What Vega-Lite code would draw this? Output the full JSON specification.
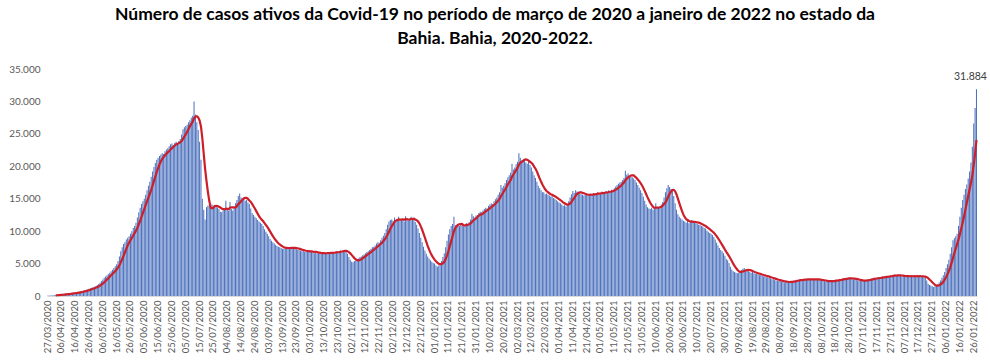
{
"$schema": "https://vega.github.io/schema/vega-lite/v6.json",
"width": 930, "height": 227,
"autosize": "none",
"padding": {"left": 47, "top": 69, "right": 13, "bottom": 66},
"background": "white",
"config": {"locale": {"number": {"decimal": ",", "thousands": ".", "grouping": [3], "currency": ["", ""]}}, "view": {"stroke": null}, "font": "Lato"},
"title": {"text": ["Número de casos ativos da Covid-19 no período de março de 2020 a janeiro de 2022 no estado da", "Bahia. Bahia, 2020-2022."], "font": "Lato", "fontSize": 17.5, "fontWeight": "bold", "color": "#000000", "lineHeight": 24, "dx": -17, "offset": 17, "anchor": "middle"},
"data": {"values": [
{"d":"27/03/2020","v":50},{"d":"28/03/2020","v":60},{"d":"29/03/2020","v":80},{"d":"30/03/2020","v":95},{"d":"31/03/2020","v":110},
{"d":"01/04/2020","v":130},{"d":"02/04/2020","v":150},{"d":"03/04/2020","v":170},{"d":"04/04/2020","v":190},{"d":"05/04/2020","v":215},{"d":"06/04/2020","v":240},{"d":"07/04/2020","v":260},{"d":"08/04/2020","v":285},{"d":"09/04/2020","v":310},{"d":"10/04/2020","v":330},{"d":"11/04/2020","v":360},{"d":"12/04/2020","v":390},{"d":"13/04/2020","v":420},{"d":"14/04/2020","v":450},{"d":"15/04/2020","v":490},{"d":"16/04/2020","v":530},{"d":"17/04/2020","v":570},{"d":"18/04/2020","v":610},{"d":"19/04/2020","v":650},{"d":"20/04/2020","v":700},{"d":"21/04/2020","v":760},{"d":"22/04/2020","v":820},{"d":"23/04/2020","v":880},{"d":"24/04/2020","v":950},{"d":"25/04/2020","v":1020},{"d":"26/04/2020","v":1100},{"d":"27/04/2020","v":1180},{"d":"28/04/2020","v":1260},{"d":"29/04/2020","v":1350},{"d":"30/04/2020","v":1440},
{"d":"01/05/2020","v":1550},{"d":"02/05/2020","v":1700},{"d":"03/05/2020","v":1850},{"d":"04/05/2020","v":2050},{"d":"05/05/2020","v":2300},{"d":"06/05/2020","v":2550},{"d":"07/05/2020","v":2800},{"d":"08/05/2020","v":3000},{"d":"09/05/2020","v":3200},{"d":"10/05/2020","v":3400},{"d":"11/05/2020","v":3600},{"d":"12/05/2020","v":3800},{"d":"13/05/2020","v":4050},{"d":"14/05/2020","v":4300},{"d":"15/05/2020","v":4600},{"d":"16/05/2020","v":4900},{"d":"17/05/2020","v":5400},{"d":"18/05/2020","v":6100},{"d":"19/05/2020","v":6900},{"d":"20/05/2020","v":7500},{"d":"21/05/2020","v":8000},{"d":"22/05/2020","v":8300},{"d":"23/05/2020","v":8700},{"d":"24/05/2020","v":9000},{"d":"25/05/2020","v":9200},{"d":"26/05/2020","v":9600},{"d":"27/05/2020","v":10000},{"d":"28/05/2020","v":10500},{"d":"29/05/2020","v":10800},{"d":"30/05/2020","v":11300},{"d":"31/05/2020","v":12100},
{"d":"01/06/2020","v":12900},{"d":"02/06/2020","v":13600},{"d":"03/06/2020","v":14200},{"d":"04/06/2020","v":14600},{"d":"05/06/2020","v":15000},{"d":"06/06/2020","v":15600},{"d":"07/06/2020","v":16300},{"d":"08/06/2020","v":17000},{"d":"09/06/2020","v":17600},{"d":"10/06/2020","v":18400},{"d":"11/06/2020","v":19200},{"d":"12/06/2020","v":19900},{"d":"13/06/2020","v":20500},{"d":"14/06/2020","v":21000},{"d":"15/06/2020","v":21300},{"d":"16/06/2020","v":21600},{"d":"17/06/2020","v":21800},{"d":"18/06/2020","v":22000},{"d":"19/06/2020","v":21900},{"d":"20/06/2020","v":22300},{"d":"21/06/2020","v":22600},{"d":"22/06/2020","v":22800},{"d":"23/06/2020","v":23100},{"d":"24/06/2020","v":23400},{"d":"25/06/2020","v":23500},{"d":"26/06/2020","v":23300},{"d":"27/06/2020","v":23600},{"d":"28/06/2020","v":23800},{"d":"29/06/2020","v":23500},{"d":"30/06/2020","v":23900},
{"d":"01/07/2020","v":24200},{"d":"02/07/2020","v":24900},{"d":"03/07/2020","v":25700},{"d":"04/07/2020","v":26000},{"d":"05/07/2020","v":26200},{"d":"06/07/2020","v":26400},{"d":"07/07/2020","v":26800},{"d":"08/07/2020","v":27100},{"d":"09/07/2020","v":27500},{"d":"10/07/2020","v":27800},{"d":"11/07/2020","v":30000},{"d":"12/07/2020","v":28000},{"d":"13/07/2020","v":26800},{"d":"14/07/2020","v":25600},{"d":"15/07/2020","v":23800},{"d":"16/07/2020","v":21000},{"d":"17/07/2020","v":15000},{"d":"18/07/2020","v":13300},{"d":"19/07/2020","v":11800},{"d":"20/07/2020","v":13700},{"d":"21/07/2020","v":13900},{"d":"22/07/2020","v":14000},{"d":"23/07/2020","v":13800},{"d":"24/07/2020","v":14100},{"d":"25/07/2020","v":13900},{"d":"26/07/2020","v":13700},{"d":"27/07/2020","v":13900},{"d":"28/07/2020","v":13600},{"d":"29/07/2020","v":13400},{"d":"30/07/2020","v":13000},{"d":"31/07/2020","v":12900},
{"d":"01/08/2020","v":13200},{"d":"02/08/2020","v":13500},{"d":"03/08/2020","v":14700},{"d":"04/08/2020","v":13300},{"d":"05/08/2020","v":13100},{"d":"06/08/2020","v":14500},{"d":"07/08/2020","v":13400},{"d":"08/08/2020","v":13200},{"d":"09/08/2020","v":13600},{"d":"10/08/2020","v":14300},{"d":"11/08/2020","v":14800},{"d":"12/08/2020","v":15400},{"d":"13/08/2020","v":15800},{"d":"14/08/2020","v":15200},{"d":"15/08/2020","v":14900},{"d":"16/08/2020","v":15000},{"d":"17/08/2020","v":14700},{"d":"18/08/2020","v":14800},{"d":"19/08/2020","v":14400},{"d":"20/08/2020","v":14200},{"d":"21/08/2020","v":13500},{"d":"22/08/2020","v":12800},{"d":"23/08/2020","v":12500},{"d":"24/08/2020","v":12200},{"d":"25/08/2020","v":12000},{"d":"26/08/2020","v":11700},{"d":"27/08/2020","v":11500},{"d":"28/08/2020","v":11300},{"d":"29/08/2020","v":11100},{"d":"30/08/2020","v":10800},{"d":"31/08/2020","v":10300},
{"d":"01/09/2020","v":9900},{"d":"02/09/2020","v":9600},{"d":"03/09/2020","v":9200},{"d":"04/09/2020","v":8800},{"d":"05/09/2020","v":8500},{"d":"06/09/2020","v":8300},{"d":"07/09/2020","v":8100},{"d":"08/09/2020","v":7900},{"d":"09/09/2020","v":7700},{"d":"10/09/2020","v":7600},{"d":"11/09/2020","v":7500},{"d":"12/09/2020","v":7400},{"d":"13/09/2020","v":7300},{"d":"14/09/2020","v":7300},{"d":"15/09/2020","v":7400},{"d":"16/09/2020","v":7500},{"d":"17/09/2020","v":7400},{"d":"18/09/2020","v":7300},{"d":"19/09/2020","v":7600},{"d":"20/09/2020","v":7500},{"d":"21/09/2020","v":7400},{"d":"22/09/2020","v":7300},{"d":"23/09/2020","v":7200},{"d":"24/09/2020","v":7100},{"d":"25/09/2020","v":7200},{"d":"26/09/2020","v":7000},{"d":"27/09/2020","v":6900},{"d":"28/09/2020","v":7000},{"d":"29/09/2020","v":6800},{"d":"30/09/2020","v":6800},
{"d":"01/10/2020","v":6900},{"d":"02/10/2020","v":7000},{"d":"03/10/2020","v":6800},{"d":"04/10/2020","v":6900},{"d":"05/10/2020","v":6700},{"d":"06/10/2020","v":6600},{"d":"07/10/2020","v":6800},{"d":"08/10/2020","v":6500},{"d":"09/10/2020","v":6600},{"d":"10/10/2020","v":6700},{"d":"11/10/2020","v":6500},{"d":"12/10/2020","v":6600},{"d":"13/10/2020","v":6700},{"d":"14/10/2020","v":6500},{"d":"15/10/2020","v":6600},{"d":"16/10/2020","v":6800},{"d":"17/10/2020","v":6700},{"d":"18/10/2020","v":6600},{"d":"19/10/2020","v":6700},{"d":"20/10/2020","v":6800},{"d":"21/10/2020","v":6700},{"d":"22/10/2020","v":6900},{"d":"23/10/2020","v":6800},{"d":"24/10/2020","v":6900},{"d":"25/10/2020","v":7000},{"d":"26/10/2020","v":6900},{"d":"27/10/2020","v":7100},{"d":"28/10/2020","v":7000},{"d":"29/10/2020","v":6900},{"d":"30/10/2020","v":6500},{"d":"31/10/2020","v":6000},
{"d":"01/11/2020","v":5600},{"d":"02/11/2020","v":5300},{"d":"03/11/2020","v":5200},{"d":"04/11/2020","v":5400},{"d":"05/11/2020","v":5500},{"d":"06/11/2020","v":5700},{"d":"07/11/2020","v":5800},{"d":"08/11/2020","v":6000},{"d":"09/11/2020","v":6100},{"d":"10/11/2020","v":6300},{"d":"11/11/2020","v":6400},{"d":"12/11/2020","v":6600},{"d":"13/11/2020","v":6800},{"d":"14/11/2020","v":6900},{"d":"15/11/2020","v":7100},{"d":"16/11/2020","v":7300},{"d":"17/11/2020","v":7500},{"d":"18/11/2020","v":7600},{"d":"19/11/2020","v":7800},{"d":"20/11/2020","v":8100},{"d":"21/11/2020","v":8300},{"d":"22/11/2020","v":8200},{"d":"23/11/2020","v":8600},{"d":"24/11/2020","v":9000},{"d":"25/11/2020","v":9300},{"d":"26/11/2020","v":9700},{"d":"27/11/2020","v":10300},{"d":"28/11/2020","v":11000},{"d":"29/11/2020","v":11500},{"d":"30/11/2020","v":11700},
{"d":"01/12/2020","v":11800},{"d":"02/12/2020","v":11600},{"d":"03/12/2020","v":12100},{"d":"04/12/2020","v":11500},{"d":"05/12/2020","v":11700},{"d":"06/12/2020","v":12200},{"d":"07/12/2020","v":11600},{"d":"08/12/2020","v":11800},{"d":"09/12/2020","v":11900},{"d":"10/12/2020","v":11500},{"d":"11/12/2020","v":12300},{"d":"12/12/2020","v":11700},{"d":"13/12/2020","v":11600},{"d":"14/12/2020","v":11900},{"d":"15/12/2020","v":12200},{"d":"16/12/2020","v":12000},{"d":"17/12/2020","v":11700},{"d":"18/12/2020","v":11400},{"d":"19/12/2020","v":11000},{"d":"20/12/2020","v":10400},{"d":"21/12/2020","v":9700},{"d":"22/12/2020","v":9000},{"d":"23/12/2020","v":8300},{"d":"24/12/2020","v":7600},{"d":"25/12/2020","v":7000},{"d":"26/12/2020","v":6500},{"d":"27/12/2020","v":6100},{"d":"28/12/2020","v":5800},{"d":"29/12/2020","v":5500},{"d":"30/12/2020","v":5300},{"d":"31/12/2020","v":5100},
{"d":"01/01/2021","v":5000},{"d":"02/01/2021","v":4700},{"d":"03/01/2021","v":4500},{"d":"04/01/2021","v":4700},{"d":"05/01/2021","v":5000},{"d":"06/01/2021","v":5400},{"d":"07/01/2021","v":6000},{"d":"08/01/2021","v":6600},{"d":"09/01/2021","v":7500},{"d":"10/01/2021","v":8500},{"d":"11/01/2021","v":9500},{"d":"12/01/2021","v":10300},{"d":"13/01/2021","v":10800},{"d":"14/01/2021","v":11100},{"d":"15/01/2021","v":12200},{"d":"16/01/2021","v":10900},{"d":"17/01/2021","v":10700},{"d":"18/01/2021","v":11000},{"d":"19/01/2021","v":10800},{"d":"20/01/2021","v":11100},{"d":"21/01/2021","v":10900},{"d":"22/01/2021","v":10700},{"d":"23/01/2021","v":11000},{"d":"24/01/2021","v":11200},{"d":"25/01/2021","v":11100},{"d":"26/01/2021","v":11400},{"d":"27/01/2021","v":11800},{"d":"28/01/2021","v":12700},{"d":"29/01/2021","v":12300},{"d":"30/01/2021","v":12100},{"d":"31/01/2021","v":12400},
{"d":"01/02/2021","v":12500},{"d":"02/02/2021","v":12800},{"d":"03/02/2021","v":13000},{"d":"04/02/2021","v":12900},{"d":"05/02/2021","v":13200},{"d":"06/02/2021","v":13400},{"d":"07/02/2021","v":13600},{"d":"08/02/2021","v":13500},{"d":"09/02/2021","v":13900},{"d":"10/02/2021","v":14100},{"d":"11/02/2021","v":14300},{"d":"12/02/2021","v":14200},{"d":"13/02/2021","v":14600},{"d":"14/02/2021","v":14900},{"d":"15/02/2021","v":15200},{"d":"16/02/2021","v":15600},{"d":"17/02/2021","v":16000},{"d":"18/02/2021","v":17100},{"d":"19/02/2021","v":16700},{"d":"20/02/2021","v":17000},{"d":"21/02/2021","v":17400},{"d":"22/02/2021","v":17900},{"d":"23/02/2021","v":18300},{"d":"24/02/2021","v":18600},{"d":"25/02/2021","v":19000},{"d":"26/02/2021","v":20400},{"d":"27/02/2021","v":19500},{"d":"28/02/2021","v":19800},
{"d":"01/03/2021","v":20300},{"d":"02/03/2021","v":20700},{"d":"03/03/2021","v":22000},{"d":"04/03/2021","v":21300},{"d":"05/03/2021","v":20900},{"d":"06/03/2021","v":20800},{"d":"07/03/2021","v":21100},{"d":"08/03/2021","v":20600},{"d":"09/03/2021","v":20400},{"d":"10/03/2021","v":20900},{"d":"11/03/2021","v":20200},{"d":"12/03/2021","v":19800},{"d":"13/03/2021","v":19200},{"d":"14/03/2021","v":18600},{"d":"15/03/2021","v":18200},{"d":"16/03/2021","v":17600},{"d":"17/03/2021","v":17000},{"d":"18/03/2021","v":16600},{"d":"19/03/2021","v":16300},{"d":"20/03/2021","v":16000},{"d":"21/03/2021","v":16000},{"d":"22/03/2021","v":15700},{"d":"23/03/2021","v":15800},{"d":"24/03/2021","v":15600},{"d":"25/03/2021","v":15500},{"d":"26/03/2021","v":15300},{"d":"27/03/2021","v":15400},{"d":"28/03/2021","v":15100},{"d":"29/03/2021","v":15000},{"d":"30/03/2021","v":14800},{"d":"31/03/2021","v":14600},
{"d":"01/04/2021","v":14400},{"d":"02/04/2021","v":14300},{"d":"03/04/2021","v":14100},{"d":"04/04/2021","v":13900},{"d":"05/04/2021","v":14000},{"d":"06/04/2021","v":13800},{"d":"07/04/2021","v":14200},{"d":"08/04/2021","v":14600},{"d":"09/04/2021","v":15200},{"d":"10/04/2021","v":15700},{"d":"11/04/2021","v":16200},{"d":"12/04/2021","v":15900},{"d":"13/04/2021","v":16300},{"d":"14/04/2021","v":16100},{"d":"15/04/2021","v":15800},{"d":"16/04/2021","v":15900},{"d":"17/04/2021","v":15700},{"d":"18/04/2021","v":15600},{"d":"19/04/2021","v":15500},{"d":"20/04/2021","v":15700},{"d":"21/04/2021","v":15600},{"d":"22/04/2021","v":15400},{"d":"23/04/2021","v":15700},{"d":"24/04/2021","v":15800},{"d":"25/04/2021","v":15600},{"d":"26/04/2021","v":15900},{"d":"27/04/2021","v":15700},{"d":"28/04/2021","v":15800},{"d":"29/04/2021","v":16000},{"d":"30/04/2021","v":15700},
{"d":"01/05/2021","v":15900},{"d":"02/05/2021","v":16100},{"d":"03/05/2021","v":15800},{"d":"04/05/2021","v":16000},{"d":"05/05/2021","v":16200},{"d":"06/05/2021","v":16000},{"d":"07/05/2021","v":16300},{"d":"08/05/2021","v":16100},{"d":"09/05/2021","v":16400},{"d":"10/05/2021","v":16200},{"d":"11/05/2021","v":16600},{"d":"12/05/2021","v":16900},{"d":"13/05/2021","v":17100},{"d":"14/05/2021","v":17300},{"d":"15/05/2021","v":17500},{"d":"16/05/2021","v":17600},{"d":"17/05/2021","v":17900},{"d":"18/05/2021","v":18200},{"d":"19/05/2021","v":19300},{"d":"20/05/2021","v":18700},{"d":"21/05/2021","v":18900},{"d":"22/05/2021","v":18500},{"d":"23/05/2021","v":18400},{"d":"24/05/2021","v":18300},{"d":"25/05/2021","v":18100},{"d":"26/05/2021","v":17900},{"d":"27/05/2021","v":17500},{"d":"28/05/2021","v":17100},{"d":"29/05/2021","v":16700},{"d":"30/05/2021","v":16300},{"d":"31/05/2021","v":15900},
{"d":"01/06/2021","v":15300},{"d":"02/06/2021","v":14700},{"d":"03/06/2021","v":14100},{"d":"04/06/2021","v":13700},{"d":"05/06/2021","v":13500},{"d":"06/06/2021","v":13400},{"d":"07/06/2021","v":13600},{"d":"08/06/2021","v":13300},{"d":"09/06/2021","v":13500},{"d":"10/06/2021","v":14300},{"d":"11/06/2021","v":13700},{"d":"12/06/2021","v":13600},{"d":"13/06/2021","v":13800},{"d":"14/06/2021","v":14100},{"d":"15/06/2021","v":14500},{"d":"16/06/2021","v":15200},{"d":"17/06/2021","v":16000},{"d":"18/06/2021","v":16600},{"d":"19/06/2021","v":17100},{"d":"20/06/2021","v":16800},{"d":"21/06/2021","v":16500},{"d":"22/06/2021","v":16200},{"d":"23/06/2021","v":15400},{"d":"24/06/2021","v":14300},{"d":"25/06/2021","v":13300},{"d":"26/06/2021","v":12600},{"d":"27/06/2021","v":12200},{"d":"28/06/2021","v":12000},{"d":"29/06/2021","v":11800},{"d":"30/06/2021","v":11600},
{"d":"01/07/2021","v":11500},{"d":"02/07/2021","v":11300},{"d":"03/07/2021","v":11600},{"d":"04/07/2021","v":11200},{"d":"05/07/2021","v":11400},{"d":"06/07/2021","v":11700},{"d":"07/07/2021","v":11300},{"d":"08/07/2021","v":11500},{"d":"09/07/2021","v":11200},{"d":"10/07/2021","v":11100},{"d":"11/07/2021","v":11000},{"d":"12/07/2021","v":11000},{"d":"13/07/2021","v":10800},{"d":"14/07/2021","v":10700},{"d":"15/07/2021","v":10500},{"d":"16/07/2021","v":10400},{"d":"17/07/2021","v":10100},{"d":"18/07/2021","v":9900},{"d":"19/07/2021","v":9700},{"d":"20/07/2021","v":9600},{"d":"21/07/2021","v":9400},{"d":"22/07/2021","v":9100},{"d":"23/07/2021","v":8700},{"d":"24/07/2021","v":8200},{"d":"25/07/2021","v":7800},{"d":"26/07/2021","v":7400},{"d":"27/07/2021","v":7100},{"d":"28/07/2021","v":6900},{"d":"29/07/2021","v":6600},{"d":"30/07/2021","v":6200},{"d":"31/07/2021","v":5700},
{"d":"01/08/2021","v":5500},{"d":"02/08/2021","v":5100},{"d":"03/08/2021","v":4500},{"d":"04/08/2021","v":4100},{"d":"05/08/2021","v":3800},{"d":"06/08/2021","v":3700},{"d":"07/08/2021","v":3600},{"d":"08/08/2021","v":3500},{"d":"09/08/2021","v":3600},{"d":"10/08/2021","v":3800},{"d":"11/08/2021","v":4000},{"d":"12/08/2021","v":4200},{"d":"13/08/2021","v":4300},{"d":"14/08/2021","v":4100},{"d":"15/08/2021","v":3900},{"d":"16/08/2021","v":3800},{"d":"17/08/2021","v":3700},{"d":"18/08/2021","v":3600},{"d":"19/08/2021","v":3700},{"d":"20/08/2021","v":3500},{"d":"21/08/2021","v":3400},{"d":"22/08/2021","v":3400},{"d":"23/08/2021","v":3300},{"d":"24/08/2021","v":3200},{"d":"25/08/2021","v":3300},{"d":"26/08/2021","v":3100},{"d":"27/08/2021","v":3000},{"d":"28/08/2021","v":3000},{"d":"29/08/2021","v":2900},{"d":"30/08/2021","v":2900},{"d":"31/08/2021","v":2800},
{"d":"01/09/2021","v":2700},{"d":"02/09/2021","v":2600},{"d":"03/09/2021","v":2600},{"d":"04/09/2021","v":2500},{"d":"05/09/2021","v":2400},{"d":"06/09/2021","v":2400},{"d":"07/09/2021","v":2300},{"d":"08/09/2021","v":2300},{"d":"09/09/2021","v":2200},{"d":"10/09/2021","v":2200},{"d":"11/09/2021","v":2100},{"d":"12/09/2021","v":2200},{"d":"13/09/2021","v":2100},{"d":"14/09/2021","v":2100},{"d":"15/09/2021","v":2200},{"d":"16/09/2021","v":2300},{"d":"17/09/2021","v":2300},{"d":"18/09/2021","v":2400},{"d":"19/09/2021","v":2400},{"d":"20/09/2021","v":2500},{"d":"21/09/2021","v":2400},{"d":"22/09/2021","v":2500},{"d":"23/09/2021","v":2600},{"d":"24/09/2021","v":2500},{"d":"25/09/2021","v":2600},{"d":"26/09/2021","v":2500},{"d":"27/09/2021","v":2600},{"d":"28/09/2021","v":2600},{"d":"29/09/2021","v":2500},{"d":"30/09/2021","v":2600},
{"d":"01/10/2021","v":2600},{"d":"02/10/2021","v":2500},{"d":"03/10/2021","v":2600},{"d":"04/10/2021","v":2500},{"d":"05/10/2021","v":2600},{"d":"06/10/2021","v":2500},{"d":"07/10/2021","v":2400},{"d":"08/10/2021","v":2400},{"d":"09/10/2021","v":2300},{"d":"10/10/2021","v":2300},{"d":"11/10/2021","v":2200},{"d":"12/10/2021","v":2300},{"d":"13/10/2021","v":2200},{"d":"14/10/2021","v":2300},{"d":"15/10/2021","v":2400},{"d":"16/10/2021","v":2400},{"d":"17/10/2021","v":2300},{"d":"18/10/2021","v":2500},{"d":"19/10/2021","v":2500},{"d":"20/10/2021","v":2400},{"d":"21/10/2021","v":2600},{"d":"22/10/2021","v":2600},{"d":"23/10/2021","v":2700},{"d":"24/10/2021","v":2700},{"d":"25/10/2021","v":2800},{"d":"26/10/2021","v":2700},{"d":"27/10/2021","v":2700},{"d":"28/10/2021","v":2800},{"d":"29/10/2021","v":2700},{"d":"30/10/2021","v":2600},{"d":"31/10/2021","v":2600},
{"d":"01/11/2021","v":2600},{"d":"02/11/2021","v":2500},{"d":"03/11/2021","v":2400},{"d":"04/11/2021","v":2400},{"d":"05/11/2021","v":2300},{"d":"06/11/2021","v":2400},{"d":"07/11/2021","v":2300},{"d":"08/11/2021","v":2400},{"d":"09/11/2021","v":2500},{"d":"10/11/2021","v":2500},{"d":"11/11/2021","v":2600},{"d":"12/11/2021","v":2600},{"d":"13/11/2021","v":2700},{"d":"14/11/2021","v":2700},{"d":"15/11/2021","v":2800},{"d":"16/11/2021","v":2700},{"d":"17/11/2021","v":2800},{"d":"18/11/2021","v":2900},{"d":"19/11/2021","v":2800},{"d":"20/11/2021","v":2900},{"d":"21/11/2021","v":3000},{"d":"22/11/2021","v":2900},{"d":"23/11/2021","v":3000},{"d":"24/11/2021","v":3100},{"d":"25/11/2021","v":3000},{"d":"26/11/2021","v":3100},{"d":"27/11/2021","v":3200},{"d":"28/11/2021","v":3100},{"d":"29/11/2021","v":3200},{"d":"30/11/2021","v":3300},
{"d":"01/12/2021","v":3200},{"d":"02/12/2021","v":3100},{"d":"03/12/2021","v":3200},{"d":"04/12/2021","v":3100},{"d":"05/12/2021","v":3000},{"d":"06/12/2021","v":3100},{"d":"07/12/2021","v":3000},{"d":"08/12/2021","v":3100},{"d":"09/12/2021","v":3000},{"d":"10/12/2021","v":3100},{"d":"11/12/2021","v":3000},{"d":"12/12/2021","v":3100},{"d":"13/12/2021","v":3000},{"d":"14/12/2021","v":3100},{"d":"15/12/2021","v":3000},{"d":"16/12/2021","v":3100},{"d":"17/12/2021","v":3000},{"d":"18/12/2021","v":3100},{"d":"19/12/2021","v":3000},{"d":"20/12/2021","v":3000},{"d":"21/12/2021","v":2900},{"d":"22/12/2021","v":2900},{"d":"23/12/2021","v":2400},{"d":"24/12/2021","v":1900},{"d":"25/12/2021","v":1700},{"d":"26/12/2021","v":1600},{"d":"27/12/2021","v":1500},{"d":"28/12/2021","v":1400},{"d":"29/12/2021","v":1500},{"d":"30/12/2021","v":1600},{"d":"31/12/2021","v":1800},
{"d":"01/01/2022","v":2100},{"d":"02/01/2022","v":2400},{"d":"03/01/2022","v":2800},{"d":"04/01/2022","v":3200},{"d":"05/01/2022","v":3700},{"d":"06/01/2022","v":4300},{"d":"07/01/2022","v":4900},{"d":"08/01/2022","v":5600},{"d":"09/01/2022","v":6500},{"d":"10/01/2022","v":7500},{"d":"11/01/2022","v":8600},{"d":"12/01/2022","v":8900},{"d":"13/01/2022","v":9200},{"d":"14/01/2022","v":9600},{"d":"15/01/2022","v":10800},{"d":"16/01/2022","v":12200},{"d":"17/01/2022","v":13600},{"d":"18/01/2022","v":14800},{"d":"19/01/2022","v":15600},{"d":"20/01/2022","v":16500},{"d":"21/01/2022","v":17200},{"d":"22/01/2022","v":18100},{"d":"23/01/2022","v":19200},{"d":"24/01/2022","v":20600},{"d":"25/01/2022","v":23000},{"d":"26/01/2022","v":26600},{"d":"27/01/2022","v":29000},{"d":"28/01/2022","v":31884}
]},
"encoding": {
  "x": {"field": "d", "type": "ordinal", "sort": null, "scale": {"paddingInner": 0.25, "paddingOuter": 0},
    "axis": {"title": null, "labelAngle": -90, "ticks": false, "labelPadding": 4, "labelFontSize": 9.5, "labelFont": "Lato", "labelColor": "#595959", "domainColor": "#D9D9D9", "labelOverlap": false, "labelBound": false,
      "values": ["27/03/2020","06/04/2020","16/04/2020","26/04/2020","06/05/2020","16/05/2020","26/05/2020","05/06/2020","15/06/2020","25/06/2020","05/07/2020","15/07/2020","25/07/2020","04/08/2020","14/08/2020","24/08/2020","03/09/2020","13/09/2020","23/09/2020","03/10/2020","13/10/2020","23/10/2020","02/11/2020","12/11/2020","22/11/2020","02/12/2020","12/12/2020","22/12/2020","01/01/2021","11/01/2021","21/01/2021","31/01/2021","10/02/2021","20/02/2021","02/03/2021","12/03/2021","22/03/2021","01/04/2021","11/04/2021","21/04/2021","01/05/2021","11/05/2021","21/05/2021","31/05/2021","10/06/2021","20/06/2021","30/06/2021","10/07/2021","20/07/2021","30/07/2021","09/08/2021","19/08/2021","29/08/2021","08/09/2021","18/09/2021","28/09/2021","08/10/2021","18/10/2021","28/10/2021","07/11/2021","17/11/2021","27/11/2021","07/12/2021","17/12/2021","27/12/2021","06/01/2022","16/01/2022","26/01/2022"]}}
},
"layer": [
  {"mark": {"type": "bar", "color": "#4E73BE"},
   "encoding": {"y": {"field": "v", "type": "quantitative", "scale": {"domain": [0, 35000], "nice": false},
     "axis": {"title": null, "values": [0,5000,10000,15000,20000,25000,30000,35000], "format": ",d", "grid": false, "domain": false, "ticks": false, "labelPadding": 7, "labelFontSize": 10, "labelFont": "Lato", "labelColor": "#595959", "labelOverlap": false, "labelBound": false}}}},
  {"transform": [{"window": [{"op": "mean", "field": "v", "as": "m"}, {"op": "row_number", "as": "rn"}], "frame": [-6, 0]}, {"filter": "datum.rn >= 7"}],
   "mark": {"type": "line", "color": "#CC1F2A", "strokeWidth": 2.2},
   "encoding": {"y": {"field": "m", "type": "quantitative",
     "axis": {"title": null, "values": [0,5000,10000,15000,20000,25000,30000,35000], "format": ",d", "grid": false, "domain": false, "ticks": false, "labelPadding": 7, "labelFontSize": 10, "labelFont": "Lato", "labelColor": "#595959", "labelOverlap": false, "labelBound": false}}}},
  {"transform": [{"filter": "datum.d == '28/01/2022'"}],
   "mark": {"type": "text", "dy": -7, "dx": -6, "fontSize": 10.5, "font": "Lato", "color": "#404040", "baseline": "bottom"},
   "encoding": {"y": {"field": "v", "type": "quantitative",
     "axis": {"title": null, "values": [0,5000,10000,15000,20000,25000,30000,35000], "format": ",d", "grid": false, "domain": false, "ticks": false, "labelPadding": 7, "labelFontSize": 10, "labelFont": "Lato", "labelColor": "#595959", "labelOverlap": false, "labelBound": false}},
     "text": {"field": "v", "type": "quantitative", "format": ",d"}}}
]
}
